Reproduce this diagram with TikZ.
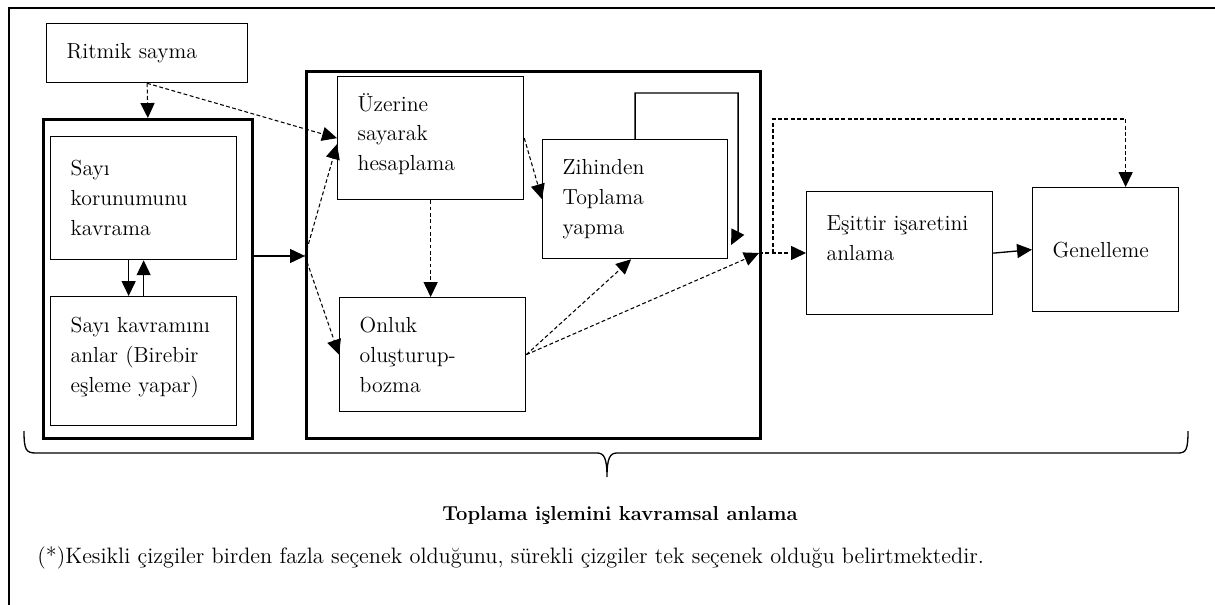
\documentclass[tikz,border=0pt]{standalone}
\usepackage{fontspec}
\usepackage{tikz}
\usetikzlibrary{arrows.meta, positioning}

\begin{document}
\begin{tikzpicture}[x=0.02cm, y=-0.02cm,
		kutu/.style={draw, line width=0.75pt, anchor=north west, inner xsep=0.4cm, inner ysep=0pt, align=left, font=\fontsize{12.4}{17}\selectfont},
		grup/.style={draw, line width=1.6pt, anchor=north west, inner sep=0pt},
		ok/.style={line width=0.6pt, -{Triangle[length=8.5pt, width=8pt]}},
		kesik/.style={ok, dash pattern=on 2.2pt off 1.4pt}]
				\useasboundingbox (0,0) rectangle (1215,605);
				% Boxes:
				\node[kutu, text width=3.22cm, minimum height=1.18cm] (ritmik) at (46,23) {Ritmik sayma};
				\node[grup, minimum width=4.18cm, minimum height=6.38cm] (sol) at (42,118) {};
				\node[kutu, text width=2.92cm, minimum height=2.46cm] (korunum) at (50,136) {Sayı\\korunumunu\\kavrama};
				\node[kutu, text width=2.92cm, minimum height=2.58cm] (sayi) at (50,296) {Sayı~kavramını\\anlar~(Birebir\\eşleme~yapar)\\[-10pt]\mbox{}};
				\node[grup, minimum width=9.08cm, minimum height=7.34cm] (orta) at (305,70) {};
				\node[kutu, text width=2.92cm, minimum height=2.46cm] (uzerine) at (337,76) {Üzerine\\sayarak\\hesaplama\\[-10pt]\mbox{}};
				\node[kutu, text width=2.90cm, minimum height=2.38cm] (zihin) at (542,139) {Zihinden\\Toplama\\yapma};
				\node[kutu, text width=2.92cm, minimum height=2.28cm] (onluk) at (339,297) {Onluk\\oluşturup-\\bozma};
				\node[kutu, text width=2.92cm, minimum height=2.46cm] (esittir) at (806,191) {Eşittir~işaretini\\anlama\\\mbox{}};
				\node[kutu, text width=2.12cm, minimum height=2.48cm] (genel) at (1032,187) {Genelleme};
				\coordinate (j1) at (305,256);
				\coordinate (j2) at (759,253);
				% Arrows:
				\draw[kesik] (ritmik.south) -- (sol.north);
				\draw[kesik] (ritmik.south) -- (uzerine.west);
				\draw[ok] ([xshift=-0.3cm]korunum.south) -- ([xshift=-0.3cm]sayi.north);
				\draw[ok] (sayi.north) -- (korunum.south);
				\draw[ok] (sol.east |- j1) -- (j1);
				\draw[kesik] (j1) -- ([yshift=-0.12cm]uzerine.west);
				\draw[kesik] (j1) -- (onluk.west);
				\draw[kesik] (uzerine.south) -- (uzerine.south |- onluk.north);
				\draw[kesik] (uzerine.east) -- (zihin.west);
				\draw[kesik] (onluk.east) -- ([xshift=-0.08cm]zihin.south);
				\draw[kesik] (onluk.east) -- (j2);
				\draw[ok, line width=0.75pt] (zihin.north) |- ++(103,-46) -- ++(0,138) -- ++(-7,14);
				\draw[kesik] (j2) -- (esittir.west |- j2);
				\draw[kesik] ([xshift=0.28cm]j2) -- ++(0,-134) -| ([xshift=0.4cm]genel.north);
				\draw[ok, line width=0.75pt] (esittir.east) -- (genel.west);
				% Frame and brace:
				\draw[line width=1.1pt] (9,605) -- (9,8) -- (1215,8);
				\draw[line width=0.75pt] (24,431) .. controls (24,450) and (26,453) .. (36,453) -- (597,453) .. controls (604,453) and (607,458) .. (607,477) .. controls (607,458) and (610,453) .. (617,453) -- (1178,453) .. controls (1186,453) and (1188,450) .. (1188,431);
				\node[font=\fontsize{11.5}{14}\selectfont\bfseries] (baslik) at (620,516) {Toplama işlemini kavramsal anlama};
				\node[anchor=west, inner sep=0pt, font=\fontsize{12.7}{15}\selectfont] (dipnot) at (37,558) {(*)Kesikli çizgiler birden fazla seçenek olduğunu, sürekli çizgiler tek seçenek olduğu belirtmektedir.};
			\end{tikzpicture}
\end{document}
